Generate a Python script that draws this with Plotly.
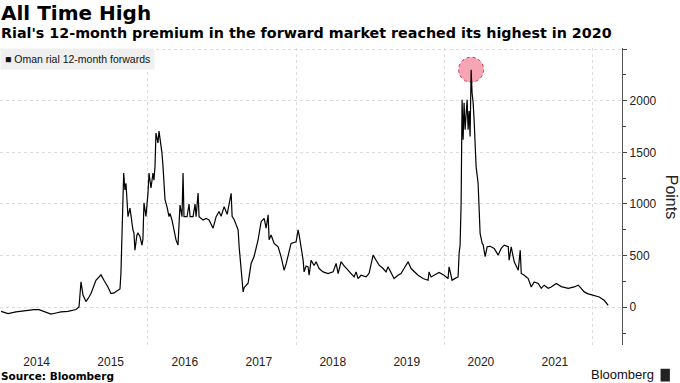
import pandas as pd
import plotly.graph_objects as go

# Time positions, in decimal years
years = [
    2014.014, 2014.108, 2014.216, 2014.351, 2014.459, 2014.527, 2014.608, 2014.689, 2014.757, 2014.824, 2014.919,
    2015.027, 2015.068, 2015.095, 2015.122, 2015.162, 2015.203, 2015.230, 2015.297, 2015.365, 2015.405, 2015.459,
    2015.500, 2015.541, 2015.595, 2015.622, 2015.635, 2015.658, 2015.672, 2015.689, 2015.703, 2015.730, 2015.757,
    2015.797, 2015.811, 2015.824, 2015.851, 2015.865, 2015.892, 2015.919, 2015.932, 2015.946, 2015.973,
    2016.000, 2016.014, 2016.041, 2016.068, 2016.081, 2016.095, 2016.108, 2016.135, 2016.149, 2016.176, 2016.189,
    2016.203, 2016.216, 2016.230, 2016.257, 2016.284, 2016.297, 2016.324, 2016.351, 2016.378, 2016.405, 2016.419,
    2016.432, 2016.459, 2016.473, 2016.486, 2016.527, 2016.554, 2016.568, 2016.608, 2016.635, 2016.649, 2016.676,
    2016.689, 2016.743, 2016.784, 2016.824, 2016.878, 2016.919, 2016.959, 2016.986,
    2017.027, 2017.068, 2017.122, 2017.135, 2017.162, 2017.216, 2017.230, 2017.257, 2017.284, 2017.297, 2017.351,
    2017.365, 2017.392, 2017.432, 2017.486, 2017.527, 2017.568, 2017.595, 2017.622, 2017.635, 2017.662, 2017.703,
    2017.757, 2017.797, 2017.824, 2017.838, 2017.865, 2017.892, 2017.932,
    2018.000, 2018.027, 2018.041, 2018.068, 2018.095, 2018.108, 2018.135, 2018.162, 2018.176, 2018.203, 2018.243,
    2018.270, 2018.311, 2018.365, 2018.432, 2018.500, 2018.541, 2018.568, 2018.608, 2018.649, 2018.703, 2018.770,
    2018.784, 2018.811, 2018.838, 2018.878, 2018.946, 2018.986,
    2019.041, 2019.081, 2019.122, 2019.176, 2019.216, 2019.243, 2019.284, 2019.324, 2019.378, 2019.419, 2019.459,
    2019.514, 2019.554, 2019.595, 2019.649, 2019.716, 2019.784, 2019.797, 2019.824, 2019.865, 2019.932,
    2020.000, 2020.027, 2020.054, 2020.068, 2020.108, 2020.149, 2020.189, 2020.203, 2020.216, 2020.230, 2020.243,
    2020.257, 2020.270, 2020.284, 2020.297, 2020.311, 2020.324, 2020.338, 2020.351, 2020.365, 2020.378, 2020.392,
    2020.405, 2020.419, 2020.432, 2020.459, 2020.473, 2020.486, 2020.514, 2020.527, 2020.554, 2020.581, 2020.622,
    2020.676, 2020.730, 2020.770, 2020.811, 2020.865, 2020.878, 2020.905, 2020.946,
    2021.000, 2021.027, 2021.041, 2021.081, 2021.135, 2021.176, 2021.216, 2021.270, 2021.311, 2021.351, 2021.405,
    2021.446, 2021.514, 2021.581, 2021.676, 2021.757, 2021.811, 2021.851, 2021.892, 2021.946,
    2022.027, 2022.095, 2022.162, 2022.216,
]

# Oman rial 12-month forwards, points
points = [
    -39, -61, -45, -30, -22, -22, -45, -65, -55, -45, -39,
    -22, 3, 246, 119, 55, 100, 133, 262, 314, 262, 197,
    133, 139, 165, 178, 330, 815, 1300, 1136, 1200, 877, 960,
    750, 718, 553, 700, 718, 686, 602, 660, 1010, 880,
    1100, 1300, 1155, 1300, 1230, 1362, 1686, 1590, 1705, 1590, 1492,
    1362, 1136, 1041, 973, 877, 909, 845, 750, 653, 602, 766,
    990, 877, 1300, 877, 877, 1000, 877, 877, 1000, 877, 1107,
    877, 845, 861, 845, 766, 877, 928, 880,
    974, 900, 1104, 880, 850, 750, 586, 359, 149, 190, 233,
    300, 424, 491, 653, 829, 861, 766, 896, 653, 700, 618,
    586, 489, 392, 359, 420, 508, 618,
    634, 750, 700, 586, 456, 343, 400, 392, 310, 456, 404,
    440, 375, 343, 326, 343, 424, 326, 441, 400, 359, 310,
    295, 343, 278, 310, 295, 327,
    505, 456, 408, 375, 343, 392, 326, 278, 310, 327, 375,
    440, 375, 343, 310, 278, 262, 343, 294, 310, 337,
    310, 294, 278, 392, 262, 280, 294, 522, 600, 1000, 2010,
    1621, 1980, 1718, 1850, 2010, 1718, 1900, 1653, 2300, 2075, 1980,
    1815, 1589, 1362, 1201, 944, 716, 619, 605, 491, 586, 590,
    570, 505, 570, 602, 586, 456, 586, 440,
    359, 553, 327, 310, 278, 197, 246, 230, 184, 214, 184,
    197, 230, 200, 184, 197, 214, 184, 149, 130,
    117, 100, 68, 19,
]

year_labels = ["2014", "2015", "2016", "2017", "2018", "2019", "2020", "2021"]
y_ticks = [0, 500, 1000, 1500, 2000, 2500]
y_tick_text = ["0", "500", "1000", "1500", "2000", ""]


def to_date(y):
    base = int(y)
    start = pd.Timestamp(year=base, month=1, day=1)
    end = pd.Timestamp(year=base + 1, month=1, day=1)
    return start + (end - start) * (y - base)


dates = [to_date(y) for y in years]
label_dates = [pd.Timestamp(year=int(l), month=7, day=1) for l in year_labels]

peak_i = max(range(len(points)), key=lambda i: points[i])

fig = go.Figure()
fig.add_trace(go.Scatter(
    x=dates, y=points, mode="lines",
    line=dict(color="#000000", width=1.2),
    name="Oman rial 12-month forwards", showlegend=False,
    hoverinfo="x+y",
))

fig.add_shape(
    type="circle", xref="x", yref="y",
    xsizemode="pixel", ysizemode="pixel",
    xanchor=dates[peak_i], yanchor=points[peak_i],
    x0=-12.5, x1=12.5, y0=-12.5, y1=12.5,
    fillcolor="rgba(240,105,130,0.6)",
    line=dict(color="#d9304f", width=1, dash="dot"),
    layer="below",
)

TEXT_FONT = "Liberation Sans, Arial, sans-serif"
BOLD_FONT = "DejaVu Sans, Verdana, sans-serif"

fig.update_layout(
    width=680, height=383,
    margin=dict(l=0, r=58, t=48, b=38),
    paper_bgcolor="white", plot_bgcolor="white",
    font=dict(family=TEXT_FONT, size=12, color="#222222"),
    xaxis=dict(
        type="date",
        range=[pd.Timestamp("2014-01-01"), pd.Timestamp("2022-05-28")],
        tickvals=label_dates, ticktext=year_labels,
        ticks="outside", ticklen=6, tickcolor="rgba(0,0,0,0)",
        showgrid=False, zeroline=False, showline=False,
        tickfont=dict(family=TEXT_FONT, size=12, color="#222222"),
        minor=dict(
            tick0="2016-01-01", dtick="M24", showgrid=True,
            gridcolor="#dcdcdc", griddash="dot", gridwidth=1, ticks="",
        ),
    ),
    yaxis=dict(
        side="right", range=[-365, 2510],
        tickvals=y_ticks, ticktext=y_tick_text,
        ticks="outside", ticklen=4, tickcolor="#444444",
        showgrid=True, gridcolor="#dcdcdc", griddash="dot", gridwidth=1,
        zeroline=False, showline=True, linecolor="#555555", linewidth=1.3,
        tickfont=dict(family=TEXT_FONT, size=12, color="#222222"),
        minor=dict(dtick=250, tick0=0, ticks="outside", ticklen=3,
                   tickcolor="#444444", showgrid=False),
    ),
    annotations=[
        dict(text="<b>All Time High</b>", xref="paper", yref="paper",
             x=-0.002, y=1.118, xanchor="left", yanchor="middle", showarrow=False,
             font=dict(family=BOLD_FONT, size=20, color="#000000")),
        dict(text="<b>Rial's 12-month premium in the forward market reached its highest in 2020</b>",
             xref="paper", yref="paper", x=-0.002, y=1.05, xanchor="left", yanchor="middle",
             showarrow=False, font=dict(family=BOLD_FONT, size=14.3, color="#000000")),
        dict(text="■ Oman rial 12-month forwards", xref="paper", yref="paper",
             x=0, y=1.0, xanchor="left", yanchor="top", showarrow=False,
             bgcolor="#efefef", borderpad=4,
             font=dict(family=TEXT_FONT, size=10.5, color="#111111")),
        dict(text="Points", xref="paper", yref="paper", x=1.08, y=0.5,
             xanchor="center", yanchor="middle", textangle=90, showarrow=False,
             font=dict(family=TEXT_FONT, size=16, color="#222222")),
        dict(text="<b>Source: Bloomberg</b>", xref="paper", yref="paper",
             x=-0.002, y=-0.104, xanchor="left", yanchor="middle", showarrow=False,
             font=dict(family=BOLD_FONT, size=10.5, color="#000000")),
        dict(text="Bloomberg", xref="paper", yref="paper",
             x=1.055, y=-0.1, xanchor="right", yanchor="middle", showarrow=False,
             font=dict(family=TEXT_FONT, size=13, color="#111111")),
    ],
)

# small Bloomberg logo square
fig.add_shape(type="rect", xref="paper", yref="paper",
              x0=1.062, x1=1.077, y0=-0.123, y1=-0.08,
              fillcolor="#222222", line=dict(width=0))

fig.write_html(
    "out.html",
    config={"displayModeBar": False},
    post_script="document.body.style.margin='0';document.body.style.overflow='hidden';",
)
